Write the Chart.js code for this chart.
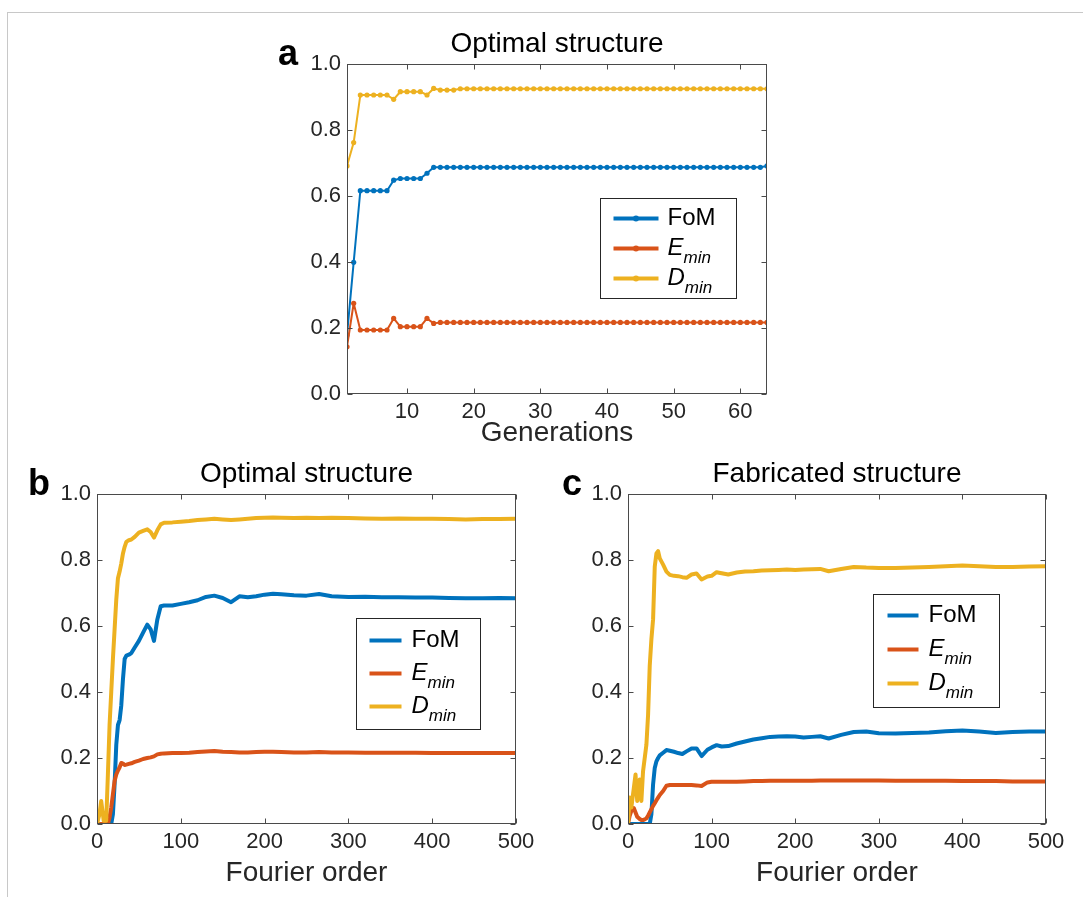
<!DOCTYPE html>
<html lang="en">
<head>
<meta charset="UTF-8">
<title>Optimal and fabricated structure</title>
<script src="https://cdn.jsdelivr.net/npm/chart.js@4.4.0/dist/chart.umd.min.js"></script>
<style>
  body { margin: 0; background: #fff; width: 1083px; height: 897px; overflow: hidden; position: relative; }
  .frame { position: absolute; left: 7px; top: 12px; width: 1200px; height: 1000px;
           border-top: 1px solid #c8c8c8; border-left: 1px solid #c8c8c8; }
  canvas { position: absolute; }
</style>
</head>
<body>
<div class="frame"></div>
<canvas id="chartA" width="540" height="460" style="left:250px; top:0px;"></canvas>
<canvas id="chartB" width="530" height="467" style="left:15px; top:430px;"></canvas>
<canvas id="chartC" width="538" height="467" style="left:545px; top:430px;"></canvas>
<script>
// ---- data ----
const generations = [1, 2, 3, 4, 5, 6, 7, 8, 9, 10, 11, 12, 13, 14, 15, 16, 17, 18, 19, 20,
  21, 22, 23, 24, 25, 26, 27, 28, 29, 30, 31, 32, 33, 34, 35, 36, 37, 38, 39, 40,
  41, 42, 43, 44, 45, 46, 47, 48, 49, 50, 51, 52, 53, 54, 55, 56, 57, 58, 59, 60,
  61, 62, 63, 64];
const aFoM = [0.179, 0.399, 0.616, 0.616, 0.616, 0.616, 0.616, 0.648, 0.653, 0.653,
  0.653, 0.653, 0.669, 0.687, 0.687, 0.687, 0.687, 0.687, 0.687, 0.687,
  0.687, 0.687, 0.687, 0.687, 0.687, 0.687, 0.687, 0.687, 0.687, 0.687,
  0.687, 0.687, 0.687, 0.687, 0.687, 0.687, 0.687, 0.687, 0.687, 0.687,
  0.687, 0.687, 0.687, 0.687, 0.687, 0.687, 0.687, 0.687, 0.687, 0.687,
  0.687, 0.687, 0.687, 0.687, 0.687, 0.687, 0.687, 0.687, 0.687, 0.687,
  0.687, 0.687, 0.687, 0.691];
const aEmin = [0.143, 0.275, 0.194, 0.194, 0.194, 0.194, 0.194, 0.229, 0.204, 0.204,
  0.204, 0.204, 0.229, 0.214, 0.217, 0.217, 0.217, 0.217, 0.217, 0.217,
  0.217, 0.217, 0.217, 0.217, 0.217, 0.217, 0.217, 0.217, 0.217, 0.217,
  0.217, 0.217, 0.217, 0.217, 0.217, 0.217, 0.217, 0.217, 0.217, 0.217,
  0.217, 0.217, 0.217, 0.217, 0.217, 0.217, 0.217, 0.217, 0.217, 0.217,
  0.217, 0.217, 0.217, 0.217, 0.217, 0.217, 0.217, 0.217, 0.217, 0.217,
  0.217, 0.217, 0.217, 0.217];
const aDmin = [0.691, 0.762, 0.906, 0.906, 0.906, 0.906, 0.906, 0.893, 0.916, 0.916,
  0.916, 0.916, 0.906, 0.926, 0.921, 0.921, 0.921, 0.925, 0.925, 0.925,
  0.925, 0.925, 0.925, 0.925, 0.925, 0.925, 0.925, 0.925, 0.925, 0.925,
  0.925, 0.925, 0.925, 0.925, 0.925, 0.925, 0.925, 0.925, 0.925, 0.925,
  0.925, 0.925, 0.925, 0.925, 0.925, 0.925, 0.925, 0.925, 0.925, 0.925,
  0.925, 0.925, 0.925, 0.925, 0.925, 0.925, 0.925, 0.925, 0.925, 0.925,
  0.925, 0.925, 0.925, 0.925];

// panel b: optimal structure vs Fourier order
const orderB = [0, 3, 5, 8, 11, 13, 15, 17, 19, 21, 23, 25, 27, 29, 31, 33, 35, 38, 41, 45,
  50, 55, 60, 64, 68, 72, 76, 80, 90, 100, 110, 120, 130, 140, 150, 160, 170, 180, 190, 200,
  210, 220, 235, 250, 265, 280, 300, 320, 340, 360, 380, 400, 420, 440, 460, 480, 500];
const bDmin = [0.0, 0.03, 0.07, 0.01, 0.01, 0.15, 0.30, 0.40, 0.50, 0.59, 0.68, 0.745, 0.765, 0.79, 0.82, 0.84, 0.855, 0.86, 0.862, 0.87,
  0.883, 0.888, 0.893, 0.885, 0.868, 0.89, 0.908, 0.913, 0.914, 0.916, 0.918, 0.921, 0.923, 0.925, 0.923, 0.921, 0.923, 0.925, 0.927, 0.928,
  0.929, 0.928, 0.927, 0.928, 0.927, 0.928, 0.927, 0.926, 0.925, 0.926, 0.925, 0.925, 0.924, 0.923, 0.924, 0.924, 0.925];
const bFoM = [0, 0, 0, 0, 0, 0, 0, 0, 0.03, 0.12, 0.24, 0.30, 0.315, 0.36, 0.44, 0.50, 0.51, 0.513, 0.518, 0.535,
  0.555, 0.58, 0.604, 0.59, 0.555, 0.62, 0.66, 0.662, 0.662, 0.667, 0.672, 0.678, 0.688, 0.692, 0.685, 0.672, 0.69, 0.687, 0.69, 0.695,
  0.698, 0.696, 0.693, 0.692, 0.697, 0.69, 0.688, 0.689, 0.687, 0.687, 0.686, 0.686, 0.685, 0.684, 0.684, 0.685, 0.684];
const bEmin = [0, 0, 0, 0, 0, 0, 0.02, 0.05, 0.09, 0.13, 0.15, 0.162, 0.172, 0.185, 0.183, 0.179, 0.18, 0.182, 0.184, 0.188,
  0.192, 0.197, 0.2, 0.202, 0.205, 0.211, 0.213, 0.214, 0.215, 0.215, 0.216, 0.218, 0.22, 0.221, 0.219, 0.218, 0.217, 0.217, 0.218, 0.219,
  0.219, 0.218, 0.217, 0.217, 0.218, 0.217, 0.217, 0.216, 0.216, 0.216, 0.216, 0.215, 0.215, 0.215, 0.215, 0.215, 0.215];

// panel c: fabricated structure vs Fourier order
const orderC = [0, 2, 4, 7, 9, 11, 14, 16, 18, 20, 22, 24, 26, 28, 30, 32, 34, 36, 38, 42,
  46, 50, 55, 60, 65, 70, 76, 82, 88, 95, 100, 106, 112, 120, 130, 140, 150, 160, 170, 180,
  190, 200, 210, 220, 230, 240, 255, 270, 285, 300, 320, 340, 360, 380, 400, 420, 440, 460, 480, 500];
const cDmin = [0.0, 0.08, 0.05, 0.11, 0.15, 0.07, 0.135, 0.07, 0.16, 0.20, 0.24, 0.33, 0.48, 0.56, 0.62, 0.78, 0.82, 0.827, 0.805, 0.786,
  0.765, 0.755, 0.752, 0.751, 0.748, 0.746, 0.756, 0.759, 0.741, 0.75, 0.752, 0.763, 0.76, 0.756, 0.762, 0.765, 0.766, 0.768, 0.769, 0.77,
  0.771, 0.77, 0.771, 0.772, 0.773, 0.766, 0.773, 0.779, 0.777, 0.776, 0.776, 0.777, 0.779, 0.781, 0.783, 0.781, 0.779, 0.779, 0.78, 0.781];
const cFoM = [0, 0, 0, 0, 0, 0, 0, 0, 0, 0, 0, 0, 0, 0.03, 0.12, 0.17, 0.19, 0.20, 0.208, 0.216,
  0.224, 0.222, 0.219, 0.215, 0.212, 0.22, 0.229, 0.229, 0.206, 0.225, 0.232, 0.239, 0.235, 0.236, 0.244, 0.25, 0.256, 0.26, 0.264, 0.265,
  0.266, 0.265, 0.262, 0.264, 0.266, 0.259, 0.27, 0.279, 0.28, 0.275, 0.274, 0.276, 0.277, 0.281, 0.283, 0.28, 0.276, 0.279, 0.28, 0.28];
const cEmin = [0.0, 0.025, 0.04, 0.048, 0.035, 0.022, 0.015, 0.012, 0.012, 0.014, 0.017, 0.025, 0.035, 0.045, 0.055, 0.063, 0.072, 0.08, 0.088, 0.1,
  0.116, 0.118, 0.118, 0.118, 0.118, 0.118, 0.118, 0.117, 0.115, 0.126, 0.128, 0.128, 0.128, 0.128, 0.128, 0.129, 0.13, 0.13, 0.131, 0.131,
  0.131, 0.131, 0.131, 0.131, 0.132, 0.132, 0.132, 0.132, 0.132, 0.132, 0.131, 0.131, 0.131, 0.131, 0.13, 0.13, 0.13, 0.129, 0.129, 0.129];

const yTicks = [0, 0.2, 0.4, 0.6, 0.8, 1.0];
const genTicks = [10, 20, 30, 40, 50, 60];
const orderTicks = [0, 100, 200, 300, 400, 500];
const legendItems = [
  { main: 'FoM', sub: '', italic: false },
  { main: 'E', sub: 'min', italic: true },
  { main: 'D', sub: 'min', italic: true }
];

// MATLAB default colours
const BLUE = '#0072BD', RED = '#D95319', YELLOW = '#EDB120';
const FONT = "'Liberation Sans', Arial, sans-serif";
const AXIS = '#262626';

function pts(xs, ys) {
  return xs.map((x, i) => ({ x: x, y: ys[i] }));
}

// frame, inward ticks, title, panel letter and legend box
const panelDecor = {
  id: 'panelDecor',
  afterDraw(chart, args, o) {
    const { ctx, chartArea: a } = chart;
    const L = Math.round(a.left) + 0.5, R = Math.round(a.right) - 0.5;
    const T = Math.round(a.top) + 0.5, B = Math.round(a.bottom) - 0.5;
    ctx.save();
    ctx.strokeStyle = '#4a4a4a';
    ctx.lineWidth = 1;
    ctx.strokeRect(L, T, R - L, B - T);
    ctx.beginPath();
    chart.scales.x.ticks.forEach(t => {
      const px = Math.round(chart.scales.x.getPixelForValue(t.value)) + 0.5;
      ctx.moveTo(px, B); ctx.lineTo(px, B - 5);
      ctx.moveTo(px, T); ctx.lineTo(px, T + 5);
    });
    chart.scales.y.ticks.forEach(t => {
      const py = Math.round(chart.scales.y.getPixelForValue(t.value)) + 0.5;
      ctx.moveTo(L, py); ctx.lineTo(L + 5, py);
      ctx.moveTo(R, py); ctx.lineTo(R - 5, py);
    });
    ctx.stroke();

    // title
    ctx.fillStyle = '#000';
    ctx.font = '28px ' + FONT;
    ctx.textAlign = 'center';
    ctx.textBaseline = 'alphabetic';
    ctx.fillText(o.title, (a.left + a.right) / 2, a.top - 12);
    // panel letter
    ctx.font = 'bold 36px ' + FONT;
    ctx.textAlign = 'left';
    ctx.fillText(o.letter, a.left - o.letterDx, a.top + 1);

    // legend
    const lg = o.legend;
    const bx = Math.round(a.left + lg.left) + 0.5, by = Math.round(a.top + lg.top) + 0.5;
    ctx.fillStyle = '#fff';
    ctx.fillRect(bx, by, lg.width, lg.height);
    ctx.strokeStyle = AXIS;
    ctx.lineWidth = 1;
    ctx.strokeRect(bx, by, lg.width, lg.height);
    const colors = [BLUE, RED, YELLOW];
    legendItems.forEach((it, i) => {
      const ry = by + lg.first + i * lg.gap;
      ctx.strokeStyle = colors[i];
      ctx.lineWidth = lg.lw;
      ctx.beginPath();
      ctx.moveTo(bx + lg.lineFrom, ry);
      ctx.lineTo(bx + lg.lineTo, ry);
      ctx.stroke();
      if (lg.marker) {
        ctx.fillStyle = colors[i];
        ctx.beginPath();
        ctx.arc(bx + (lg.lineFrom + lg.lineTo) / 2, ry, 3, 0, Math.PI * 2);
        ctx.fill();
      }
      ctx.fillStyle = '#000';
      ctx.textAlign = 'left';
      ctx.textBaseline = 'middle';
      ctx.font = (it.italic ? 'italic ' : '') + '24px ' + FONT;
      ctx.fillText(it.main, bx + lg.text, ry);
      if (it.sub) {
        const w = ctx.measureText(it.main).width;
        ctx.font = 'italic 17px ' + FONT;
        ctx.textBaseline = 'alphabetic';
        ctx.fillText(it.sub, bx + lg.text + w, ry + 14.5);
      }
    });
    ctx.restore();
  }
};

function makeChart(id, cfg) {
  const tickFont = { family: FONT, size: 22 };
  const ds = (label, data, color, order) => ({
    label: label, data: data, borderColor: color, backgroundColor: color,
    borderWidth: cfg.lineWidth, pointRadius: cfg.pointRadius, pointBorderWidth: 0,
    pointBackgroundColor: color, tension: 0, order: order,
    borderJoinStyle: 'round', borderCapStyle: 'round'
  });
  return new Chart(document.getElementById(id), {
    type: 'line',
    data: {
      datasets: [
        ds('FoM', cfg.fom, BLUE, 3),
        ds('Emin', cfg.emin, RED, 2),
        ds('Dmin', cfg.dmin, YELLOW, 1)
      ]
    },
    options: {
      responsive: false,
      animation: false,
      events: [],
      layout: { padding: cfg.padding },
      plugins: {
        legend: { display: false },
        tooltip: { enabled: false },
        panelDecor: cfg.decor
      },
      scales: {
        x: {
          type: 'linear', min: cfg.xMin, max: cfg.xMax,
          grid: { display: false, drawTicks: false },
          border: { display: false },
          afterBuildTicks: s => { s.ticks = cfg.xTicks.map(v => ({ value: v })); },
          afterFit: s => { s.height = cfg.xHeight; },
          ticks: { color: AXIS, font: tickFont, padding: 5, maxRotation: 0, autoSkip: false,
                   callback: v => String(v) },
          title: { display: true, text: cfg.xTitle, color: AXIS,
                   font: { family: FONT, size: 28 }, padding: { top: 0, bottom: 0 } }
        },
        y: {
          type: 'linear', min: 0, max: 1,
          grid: { display: false, drawTicks: false },
          border: { display: false },
          afterBuildTicks: s => { s.ticks = yTicks.map(v => ({ value: v })); },
          afterFit: s => { s.width = cfg.yWidth; },
          ticks: { color: AXIS, font: tickFont, padding: 6, callback: v => v.toFixed(1) }
        }
      }
    },
    plugins: [panelDecor]
  });
}

makeChart('chartA', {
  fom: pts(generations, aFoM), emin: pts(generations, aEmin), dmin: pts(generations, aDmin),
  lineWidth: 2, pointRadius: 2.6,
  xMin: 1, xMax: 64, xTicks: genTicks, xTitle: 'Generations',
  padding: { left: 0, top: 64, right: 23, bottom: 10 }, yWidth: 97, xHeight: 56,
  decor: { title: 'Optimal structure', letter: 'a', letterDx: 69,
    legend: { left: 253, top: 134, width: 136, height: 100, first: 20, gap: 30,
              lineFrom: 13, lineTo: 58, text: 67, lw: 4, marker: true } }
});

makeChart('chartB', {
  fom: pts(orderB, bFoM), emin: pts(orderB, bEmin), dmin: pts(orderB, bDmin),
  lineWidth: 4, pointRadius: 0,
  xMin: 0, xMax: 500, xTicks: orderTicks, xTitle: 'Fourier order',
  padding: { left: 0, top: 64, right: 29, bottom: 7 }, yWidth: 82, xHeight: 66,
  decor: { title: 'Optimal structure', letter: 'b', letterDx: 69,
    legend: { left: 259, top: 124, width: 124, height: 111, first: 22, gap: 33,
              lineFrom: 13, lineTo: 45, text: 55, lw: 4, marker: false } }
});

makeChart('chartC', {
  fom: pts(orderC, cFoM), emin: pts(orderC, cEmin), dmin: pts(orderC, cDmin),
  lineWidth: 4, pointRadius: 0,
  xMin: 0, xMax: 500, xTicks: orderTicks, xTitle: 'Fourier order',
  padding: { left: 0, top: 64, right: 37, bottom: 7 }, yWidth: 83, xHeight: 66,
  decor: { title: 'Fabricated structure', letter: 'c', letterDx: 66,
    legend: { left: 245, top: 100, width: 126, height: 113, first: 21, gap: 34,
              lineFrom: 14, lineTo: 45, text: 55, lw: 4, marker: false } }
});
</script>
</body>
</html>
